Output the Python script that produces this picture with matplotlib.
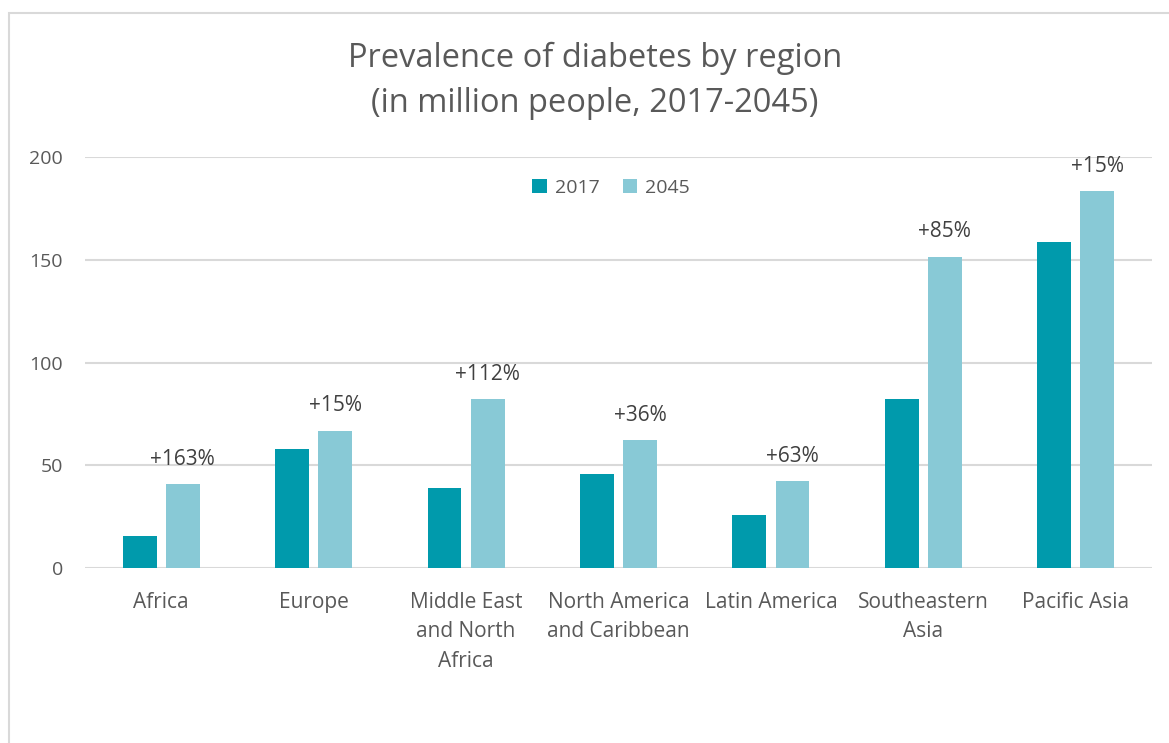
import matplotlib
matplotlib.use("Agg")
import matplotlib.pyplot as plt
from matplotlib.patches import Rectangle
import numpy as np

plt.rcParams['font.family'] = ['Open Sans', 'DejaVu Sans']

regions = ["Africa", "Europe", "Middle East\nand North\nAfrica", "North America\nand Caribbean",
           "Latin America", "Southeastern\nAsia", "Pacific Asia"]
values_2017 = [15.5, 58.0, 38.7, 45.9, 26.0, 82.0, 158.8]
values_2045 = [40.7, 66.7, 82.0, 62.2, 42.3, 151.4, 183.3]
growth_labels = ["+163%", "+15%", "+112%", "+36%", "+63%", "+85%", "+15%"]
yticks = [0, 50, 100, 150, 200]

W, H = 1169, 743
fig = plt.figure(figsize=(W / 100, H / 100), dpi=100)

# chart frame
fig.patches.append(Rectangle((9 / W, -0.1), 1.2, (H - 13) / H + 0.1, transform=fig.transFigure,
                             fill=False, edgecolor='#D9D9D9', linewidth=1.5))

ax = fig.add_axes([85 / W, (H - 568) / H, (1152 - 85) / W, (568 - 157) / H])

text_c = '#595959'
c2017 = '#009AAC'
c2045 = '#88C9D6'

x = np.arange(len(regions))
bw = 0.223
gap = 0.06
off = (bw + gap) / 2
ax.bar(x - off, values_2017, bw, color=c2017, label='2017', zorder=3)
bars45 = ax.bar(x + off, values_2045, bw, color=c2045, label='2045', zorder=3)

for rect, lab in zip(bars45, growth_labels):
    ax.annotate(lab, (rect.get_x() + rect.get_width() / 2, rect.get_height()),
                xytext=(0, 25), textcoords='offset pixels', ha='center', va='center',
                fontsize=15, color='#404040')

ax.set_xlim(-0.5, len(regions) - 0.5)
ax.set_ylim(0, 200)
ax.set_yticks(yticks)
ax.set_yticklabels([str(v) for v in yticks])
ax.set_xticks(x)
ax.set_xticklabels(regions, linespacing=1.55, fontsize=15)
ax.tick_params(axis='both', length=0, colors=text_c)
ax.tick_params(axis='y', pad=16, labelsize=14)
ax.tick_params(axis='x', pad=17)
ax.yaxis.grid(True, color='#D9D9D9', linewidth=1.5, zorder=0)
ax.set_axisbelow(True)
for s in ax.spines.values():
    s.set_visible(False)

fig.text(595 / W, 1 - 58 / H, "Prevalence of diabetes by region", ha='center', va='center',
         fontsize=23.5, color=text_c)
fig.text(595 / W, 1 - 103 / H, "(in million people, 2017-2045)", ha='center', va='center',
         fontsize=23.5, color=text_c)

ax.legend(loc='center', bbox_to_anchor=(611 / W, 1 - 188 / H), bbox_transform=fig.transFigure,
          ncol=2, frameon=False, fontsize=14, labelcolor=text_c, handlelength=0.75,
          handleheight=0.75, columnspacing=1.2, handletextpad=0.4)

fig.savefig("out.png", dpi=100, facecolor='white')
